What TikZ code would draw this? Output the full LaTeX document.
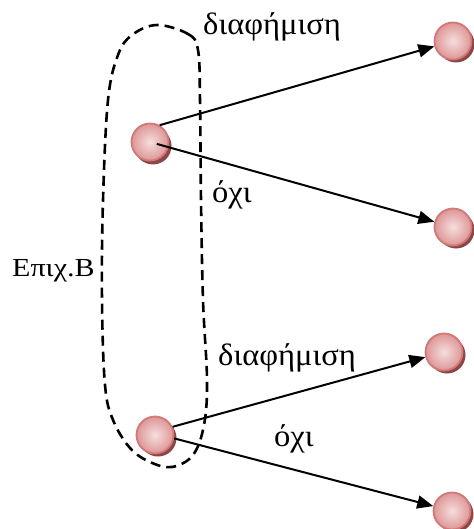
\documentclass[tikz,border=0pt]{standalone}
\usepackage{fontspec}
\setmainfont{Liberation Serif}
\usetikzlibrary{arrows.meta,calc,shadings}
\definecolor{ballin}{RGB}{246,222,222}
\definecolor{ballout}{RGB}{222,150,150}
\definecolor{ballrim}{RGB}{210,120,120}
\definecolor{ballshadow}{RGB}{110,25,25}
\tikzset{
  ball/.style={circle, minimum size=37pt, inner sep=0pt, draw=ballrim, line width=1.8pt,
    inner color=ballin, outer color=ballout},
  ballshade/.style={circle, minimum size=37pt, inner sep=0pt, fill=ballshadow, fill opacity=0.8},
  link/.style={line width=2pt, -{Triangle[length=16pt,width=13pt]}},
  loop/.style={line width=2.6pt, dash pattern=on 10pt off 6pt},
  lab/.style={anchor=base west, inner sep=0pt, xscale=1.05, font=\fontsize{31}{34}\selectfont},
}
\begin{document}
\begin{tikzpicture}[x=1pt,y=-1pt]
\useasboundingbox (0,0) rectangle (473,529);
% shadows
\foreach \p in {(153,146),(456,44),(456,230),(447,355),(158,438),(455,514)}
  \node[ballshade] at \p {};
% balls
\node[ball] (A) at (150,142) {};
\node[ball] (B) at (453,41) {};
\node[ball] (C) at (453,227) {};
\node[ball] (E) at (444,352) {};
\node[ball] (D) at (155,435) {};
\node[ball] (F) at (452,511) {};
% group loop
\draw[loop] plot[smooth cycle, tension=0.6] coordinates {
 (157,25) (188,34) (198,50) (200,100) (201,200) (203,300) (207,380) (204,425)
 (193,455) (172,467) (150,462) (130,448) (113,420) (105,385) (102,300) (103,200)
 (108,100) (118,55) (132,35)};
% connectors
\draw[link] (A.60) -- (B);
\draw[link, shorten <=7pt] (A.center) -- (C);
\draw[link] (D.25) -- (E);
\draw[link] (D.-10) -- (F);
% labels
\node[lab] (l1) at (203,35) {διαφήμιση};
\node[lab] (l2) at (212,202) {όχι};
\node[lab] (l3) at (218,365) {διαφήμιση};
\node[lab] (l4) at (274,446) {όχι};
\node[lab, xscale=1.1, font=\fontsize{26}{30}\selectfont] (l5) at (12,276) {Επιχ.Β};
\end{tikzpicture}
\end{document}
